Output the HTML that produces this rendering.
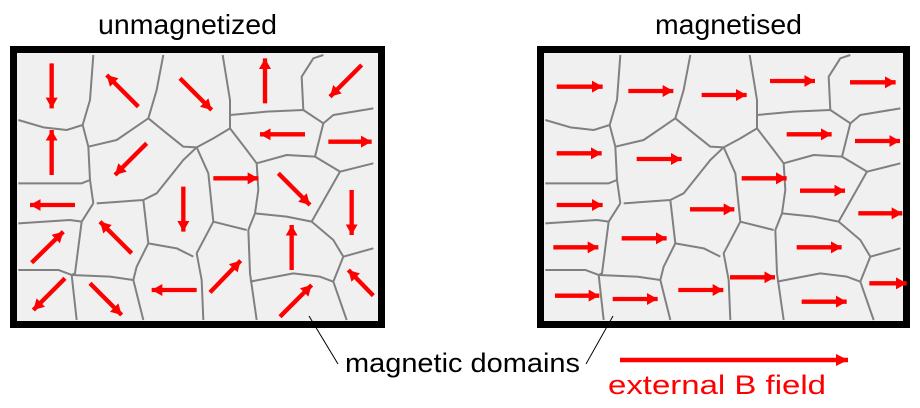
<!DOCTYPE html>
<html><head><meta charset="utf-8"><style>
html,body{margin:0;padding:0;background:#fff;}
svg{display:block;}
text{font-family:"Liberation Sans",Arial,sans-serif;}
</style></head><body>
<svg width="920" height="408" viewBox="0 0 920 408" xmlns="http://www.w3.org/2000/svg">
<defs>
<marker id="h" markerUnits="userSpaceOnUse" markerWidth="40" markerHeight="40" refX="32" refY="18" orient="auto" viewBox="0 0 40 40">
<path d="M0,0 L32,18 L0,36 Z" fill="#ff0000"/>
</marker>
<marker id="h2" markerUnits="userSpaceOnUse" markerWidth="14" markerHeight="14" refX="12" refY="6" orient="auto" viewBox="0 0 14 14">
<path d="M0,0 L12,6 L0,12 Z" fill="#ff0000"/>
</marker>
<g id="dom" fill="none" stroke="#808080" stroke-width="6" stroke-linejoin="round">
<path d="M280,45 L270,180 L248,255 L200,270 L130,262 L55,240"/>
<path d="M248,255 L265,320 L270,420 L280,490"/>
<path d="M265,320 L350,300 L445,235"/>
<path d="M490,45 L470,150 L445,235"/>
<path d="M445,235 L500,280 L550,320 L590,322"/>
<path d="M668,45 L690,180 L690,265 L640,295 L590,322"/>
<path d="M690,225 L800,215 L910,210 L970,250"/>
<path d="M910,210 L905,110 L940,55 L970,45"/>
<path d="M970,250 L1000,225 L1120,205"/>
<path d="M690,265 L740,330 L770,370"/>
<path d="M970,250 L945,350 L860,345 L770,370"/>
<path d="M945,350 L1020,395 L1120,370"/>
<path d="M590,322 L550,360 L470,460 L430,480 L290,490"/>
<path d="M590,322 L625,400 L640,545 L740,570"/>
<path d="M770,370 L775,450 L765,520 L745,570"/>
<path d="M765,520 L860,530 L935,545 L1020,395"/>
<path d="M935,545 L1000,600 L1030,650 L1120,625"/>
<path d="M1030,650 L1000,725 L1040,840"/>
<path d="M745,570 L750,700 L770,840"/>
<path d="M750,725 L880,700 L960,710 L1000,725"/>
<path d="M640,545 L590,640 L605,720 L610,840"/>
<path d="M580,650 L530,625 L445,610 L430,480"/>
<path d="M445,610 L410,680 L400,720 L430,840"/>
<path d="M280,490 L245,545 L225,700 L215,705"/>
<path d="M245,545 L210,540 L55,550"/>
<path d="M215,705 L330,710 L400,720"/>
<path d="M215,705 L230,840"/>
<path d="M215,705 L175,690 L55,690"/>
<path d="M270,420 L245,430 L55,430"/>
</g>
</defs>

<text x="98" y="34" font-size="28" textLength="179" lengthAdjust="spacingAndGlyphs">unmagnetized</text>
<text x="655" y="34" font-size="28" textLength="147" lengthAdjust="spacingAndGlyphs">magnetised</text>

<rect x="13.5" y="49.5" width="368" height="275" fill="#f0f0f0" stroke="#000" stroke-width="7"/>
<g transform="translate(0,40) scale(0.33333)">
<use href="#dom"/>
<g stroke="#ff0000" stroke-width="13" marker-end="url(#h)">
<line x1="155" y1="70" x2="155" y2="205"/>
<line x1="415" y1="200" x2="320" y2="105"/>
<line x1="540" y1="115" x2="635" y2="210"/>
<line x1="795" y1="190" x2="795" y2="55"/>
<line x1="1085" y1="75" x2="990" y2="170"/>
<line x1="155" y1="405" x2="155" y2="270"/>
<line x1="440" y1="310" x2="345" y2="405"/>
<line x1="915" y1="283" x2="780" y2="283"/>
<line x1="985" y1="305" x2="1115" y2="305"/>
<line x1="225" y1="495" x2="90" y2="495"/>
<line x1="640" y1="415" x2="775" y2="415"/>
<line x1="835" y1="400" x2="930" y2="495"/>
<line x1="550" y1="440" x2="550" y2="575"/>
<line x1="1055" y1="450" x2="1055" y2="585"/>
<line x1="95" y1="668" x2="190" y2="575"/>
<line x1="395" y1="640" x2="300" y2="545"/>
<line x1="875" y1="690" x2="875" y2="555"/>
<line x1="1120" y1="767" x2="1045" y2="690"/>
<line x1="195" y1="715" x2="100" y2="810"/>
<line x1="270" y1="730" x2="365" y2="825"/>
<line x1="590" y1="750" x2="455" y2="750"/>
<line x1="630" y1="757" x2="722" y2="662"/>
<line x1="840" y1="830" x2="935" y2="735"/>
</g>
</g>

<rect x="540.5" y="49.5" width="366" height="275" fill="#f0f0f0" stroke="#000" stroke-width="7"/>
<g transform="translate(527,40) scale(0.33333)">
<use href="#dom"/>
</g>
<g transform="translate(530,40) scale(0.33333)" stroke="#ff0000" stroke-width="13" marker-end="url(#h)">
<line x1="80" y1="140" x2="218" y2="140"/>
<line x1="295" y1="153" x2="430" y2="153"/>
<line x1="515" y1="165" x2="650" y2="165"/>
<line x1="720" y1="123" x2="855" y2="123"/>
<line x1="960" y1="127" x2="1097" y2="127"/>
<line x1="80" y1="340" x2="215" y2="340"/>
<line x1="320" y1="357" x2="455" y2="357"/>
<line x1="770" y1="283" x2="905" y2="283"/>
<line x1="975" y1="303" x2="1110" y2="303"/>
<line x1="635" y1="415" x2="770" y2="415"/>
<line x1="80" y1="495" x2="218" y2="495"/>
<line x1="810" y1="452" x2="945" y2="452"/>
<line x1="480" y1="508" x2="613" y2="508"/>
<line x1="985" y1="520" x2="1117" y2="520"/>
<line x1="275" y1="595" x2="410" y2="595"/>
<line x1="70" y1="622" x2="205" y2="622"/>
<line x1="800" y1="622" x2="935" y2="622"/>
<line x1="600" y1="712" x2="735" y2="712"/>
<line x1="1018" y1="730" x2="1130" y2="730"/>
<line x1="75" y1="767" x2="208" y2="767"/>
<line x1="248" y1="777" x2="383" y2="777"/>
<line x1="445" y1="750" x2="580" y2="750"/>
<line x1="815" y1="785" x2="950" y2="785"/>
</g>

<line x1="309" y1="316" x2="338" y2="364" stroke="#000" stroke-width="1"/>
<line x1="613" y1="316" x2="586" y2="364" stroke="#000" stroke-width="1"/>
<text x="345" y="372" font-size="27" textLength="235" lengthAdjust="spacingAndGlyphs">magnetic domains</text>
<line x1="620" y1="360" x2="848" y2="360" stroke="#ff0000" stroke-width="4.5" marker-end="url(#h2)"/>
<text x="608" y="394" font-size="27" fill="#ff0000" textLength="218" lengthAdjust="spacingAndGlyphs">external B field</text>
</svg>
</body></html>
